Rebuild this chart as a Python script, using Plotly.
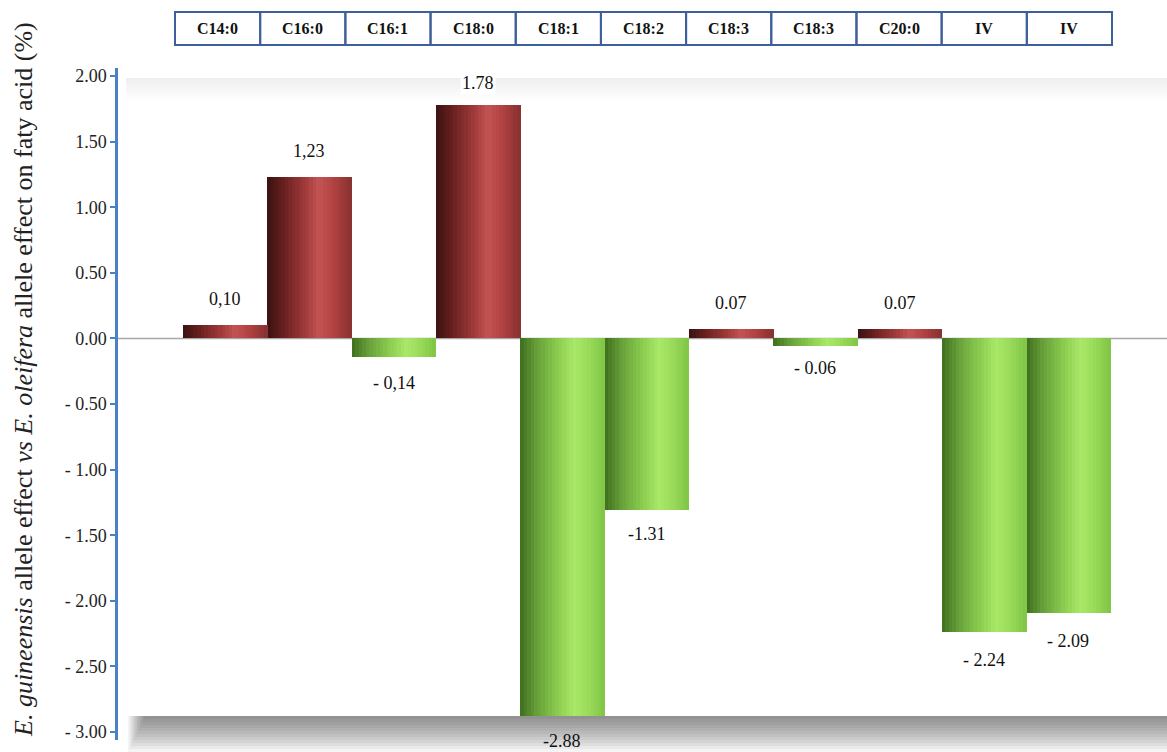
import plotly.graph_objects as go

# ---------------- data ----------------
categories = ["C14:0", "C16:0", "C16:1", "C18:0", "C18:1", "C18:2",
              "C18:3", "C18:3", "C20:0", "IV", "IV"]
values = [0.10, 1.23, -0.14, 1.78, -2.88, -1.31, 0.07, -0.06, 0.07, -2.24, -2.09]
value_labels = ["0,10", "1,23", "- 0,14", "1.78", "-2.88", "-1.31",
                "0.07", "- 0.06", "0.07", "- 2.24", "- 2.09"]
ytick_vals = [2.0, 1.5, 1.0, 0.5, 0.0, -0.5, -1.0, -1.5, -2.0, -2.5, -3.0]
ytick_text = ["2.00", "1.50", "1.00", "0.50", "0.00", "- 0.50", "- 1.00",
              "- 1.50", "- 2.00", "- 2.50", "- 3.00"]
y_title = ("<i>E. guineensis</i> allele effect <i>vs</i> <i>E. oleifera</i> "
           "allele effect on faty acid (%)")

# ---------------- styling ----------------
W, H = 1167, 752
ML, MR, MT, MB = 118, 0, 68, 12
SERIF = "'Times New Roman', 'Liberation Serif', Tinos, 'DejaVu Serif', serif"

red_grad = [(0.0, (58, 18, 18)), (0.2, (105, 32, 32)), (0.45, (160, 58, 58)),
            (0.62, (196, 84, 84)), (0.78, (178, 66, 66)), (1.0, (135, 48, 48))]
green_grad = [(0.0, (62, 110, 30)), (0.2, (104, 160, 58)), (0.45, (140, 205, 80)),
              (0.65, (170, 232, 104)), (0.82, (152, 218, 88)), (1.0, (128, 196, 70))]


def interp(grad, t):
    for (t0, c0), (t1, c1) in zip(grad[:-1], grad[1:]):
        if t0 <= t <= t1:
            f = (t - t0) / (t1 - t0) if t1 > t0 else 0
            return "rgb(%d,%d,%d)" % tuple(round(a + (b - a) * f) for a, b in zip(c0, c1))
    return "rgb(%d,%d,%d)" % grad[-1][1]


x_idx = list(range(len(categories)))
N = 24
fig = go.Figure()
for k in range(N):
    t = (k + 0.5) / N
    colors = [interp(red_grad, t) if v >= 0 else interp(green_grad, t) for v in values]
    fig.add_trace(go.Bar(
        x=x_idx, y=values,
        width=1.0 / N * 1.15,
        offset=-0.5 + k / N,
        marker=dict(color=colors, line=dict(width=0)),
        hoverinfo="skip", showlegend=False,
    ))

# value labels
shifts = [14, 14, -14, 10, -13, -12, 14, -10, 14, -16, -16]
for i, (v, lab) in enumerate(zip(values, value_labels)):
    fig.add_annotation(
        x=i, y=v, text=lab, showarrow=False,
        yanchor="bottom" if v >= 0 else "top",
        yshift=shifts[i], font=dict(family=SERIF, size=18, color="#111111"),
        bgcolor="white" if i == 3 else None,
    )

# ---------------- background frame ----------------
plot_h = H - MT - MB
plot_w = W - ML - MR
def py(pix):
    return (H - MB - pix) / plot_h
def px(pix):
    return (pix - ML) / plot_w

shapes = []
for j in range(8):
    shapes.append(dict(type="rect", xref="paper", yref="paper",
                       x0=px(126), x1=1.0, y0=py(78 + 22 * (1 - j / 8)), y1=py(78),
                       fillcolor="rgba(0,0,0,0.008)", line=dict(width=0),
                       layer="below"))
for j in range(12):
    shapes.append(dict(type="rect", xref="paper", yref="paper",
                       x0=px(128 + j * 1.5), x1=1.0, y0=py(716 + 36 * (1 - j / 12)), y1=py(716),
                       fillcolor="rgba(0,0,0,0.042)", line=dict(width=0),
                       layer="below"))

shapes.append(dict(type="line", xref="paper", yref="y", x0=0, x1=1, y0=0, y1=0,
                   line=dict(color="#a8a8a8", width=1.5), layer="below"))

box_l, box_r = 175, 1112
bw = (box_r - box_l) / len(categories)
for i, c in enumerate(categories):
    x0 = box_l + i * bw
    shapes.append(dict(type="rect", xref="paper", yref="paper",
                       x0=px(x0), x1=px(x0 + bw), y0=py(45), y1=py(12),
                       line=dict(color="#3d5f9a", width=2), fillcolor="rgba(0,0,0,0)"))
    fig.add_annotation(x=px(x0 + bw / 2), xref="paper", y=py(28.5), yref="paper",
                       xanchor="center", yanchor="middle",
                       text="<b>%s</b>" % c, showarrow=False,
                       font=dict(family=SERIF, size=16, color="#111111"))

# y-axis title as rotated annotation
fig.add_annotation(x=px(23), xref="paper", y=py(380), yref="paper",
                   xanchor="center", yanchor="middle", textangle=-90,
                   text=y_title, showarrow=False,
                   font=dict(family=SERIF, size=26, color="#222222"))

fig.update_layout(shapes=shapes)

fig.update_layout(
    width=W, height=H,
    margin=dict(l=ML, r=MR, t=MT, b=MB),
    paper_bgcolor="white", plot_bgcolor="rgba(0,0,0,0)",
    barmode="overlay", bargap=0,
    xaxis=dict(range=[-1.27, 11.17], showticklabels=False, showgrid=False,
               zeroline=False, showline=False, ticks=""),
    yaxis=dict(range=[-3.061, 2.061], tickvals=ytick_vals, ticktext=ytick_text,
               showgrid=False, zeroline=False, showline=True,
               linecolor="#4a80c8", linewidth=2.5, ticks="outside", ticklen=5,
               tickcolor="#4a80c8", tickwidth=1.5,
               tickfont=dict(family=SERIF, size=18, color="#222222")),
    font=dict(family=SERIF, size=18),
)

fig.write_html("out.html")
